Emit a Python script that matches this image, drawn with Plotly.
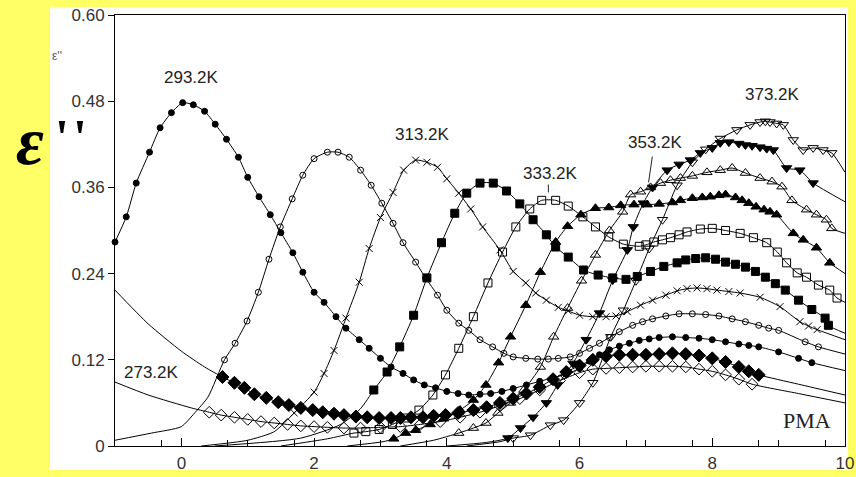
import plotly.graph_objects as go

# ---------------- data ----------------
# 273.2K  open diamonds
h273_x = [-1, -0.5, 0.15]
h273_y = [0.089, 0.071, 0.053]
m273_x = [0.42, 0.6, 0.8, 1.0, 1.2, 1.4, 1.6, 1.8, 2.0, 2.2, 2.45, 2.7, 3.0, 3.3, 3.6, 3.9, 4.2, 4.5, 4.8, 5.1,
          5.4, 5.7, 6.0, 6.2, 6.4, 6.6, 6.8, 7.0, 7.2, 7.4, 7.6, 7.8, 8.0, 8.2, 8.4, 8.6]
m273_y = [0.047, 0.043, 0.040, 0.037, 0.034, 0.032, 0.030, 0.028, 0.027, 0.026, 0.025, 0.025, 0.026, 0.027, 0.030,
          0.034, 0.040, 0.047, 0.056, 0.066, 0.078, 0.091, 0.102, 0.107, 0.108, 0.109, 0.110, 0.111, 0.111, 0.111,
          0.110, 0.107, 0.104, 0.099, 0.093, 0.086]
t273_x = [9.3, 10]
t273_y = [0.073, 0.060]

# 283.2K  filled diamonds
h283_x = [-1, -0.5, 0, 0.35]
h283_y = [0.217, 0.17, 0.132, 0.11]
m283_x = [0.62, 0.8, 0.95, 1.1, 1.28, 1.46, 1.62, 1.8, 1.98, 2.13, 2.3, 2.45, 2.63, 2.8, 2.98, 3.16, 3.3, 3.46, 3.64,
          3.8, 3.98, 4.17, 4.4, 4.6, 4.8, 5.0, 5.2, 5.4, 5.6, 5.8, 6.0, 6.2, 6.4, 6.6, 6.8, 7.0, 7.2, 7.4, 7.6, 7.8,
          8.0, 8.2, 8.4, 8.55, 8.7]
m283_y = [0.096, 0.088, 0.081, 0.072, 0.067, 0.061, 0.057, 0.053, 0.050, 0.047, 0.045, 0.043, 0.041, 0.040, 0.039,
          0.039, 0.039, 0.040, 0.040, 0.042, 0.043, 0.046, 0.050, 0.054, 0.060, 0.066, 0.073, 0.082, 0.093, 0.103,
          0.112, 0.120, 0.125, 0.127, 0.127, 0.127, 0.128, 0.129, 0.128, 0.126, 0.122, 0.117, 0.110, 0.104, 0.099]
t283_x = [9.3, 10]
t283_y = [0.086, 0.071]

# 293.2K  filled circles
h293_x = []
h293_y = []
m293_x = [-1, -0.83, -0.68, -0.48, -0.32, -0.15, 0.02, 0.18, 0.35, 0.51, 0.68, 0.86, 1.0, 1.17, 1.34, 1.5, 1.68,
          1.83, 2.0, 2.15, 2.33, 2.48, 2.68, 2.83, 3.0, 3.16, 3.34, 3.5, 3.66, 3.83, 4.0, 4.17, 4.33, 4.5, 4.66,
          4.83, 5.0, 5.2, 5.4, 5.6, 5.8, 6.0, 6.15, 6.3, 6.45, 6.6, 6.75, 6.9, 7.05, 7.2, 7.4, 7.6, 7.8, 8.0, 8.2,
          8.4, 8.55, 8.7, 9.0, 9.3, 9.5]
m293_y = [0.284, 0.319, 0.366, 0.409, 0.443, 0.464, 0.478, 0.475, 0.466, 0.448, 0.427, 0.402, 0.374, 0.347, 0.322,
          0.297, 0.269, 0.242, 0.214, 0.200, 0.180, 0.164, 0.148, 0.136, 0.122, 0.110, 0.101, 0.092, 0.085, 0.081,
          0.076, 0.073, 0.071, 0.072, 0.073, 0.076, 0.080, 0.085, 0.090, 0.095, 0.100, 0.108, 0.118, 0.127, 0.134,
          0.139, 0.143, 0.147, 0.149, 0.151, 0.152, 0.151, 0.150, 0.148, 0.145, 0.142, 0.140, 0.138, 0.131, 0.122,
          0.116]
t293_x = [10]
t293_y = [0.105]

# 303.2K  open circles
h303_x = [-1, -0.45, 0, 0.2, 0.4]
h303_y = [0.008, 0.018, 0.027, 0.046, 0.068]
m303_x = [0.65, 0.81, 0.99, 1.16, 1.32, 1.49, 1.67, 1.83, 2.0, 2.2, 2.36, 2.53, 2.7, 2.86, 3.02, 3.19, 3.34, 3.53,
          3.68, 3.86, 4.0, 4.18, 4.33, 4.5, 4.69, 4.86, 5.0, 5.19, 5.37, 5.53, 5.68, 5.86, 6.0, 6.15, 6.3, 6.45, 6.6,
          6.8, 6.95, 7.1, 7.3, 7.5, 7.7, 7.9, 8.1, 8.3, 8.5, 8.7, 8.85, 9.0, 9.4, 9.6]
m303_y = [0.120, 0.143, 0.174, 0.214, 0.260, 0.305, 0.344, 0.377, 0.400, 0.409, 0.409, 0.402, 0.384, 0.363, 0.338,
          0.310, 0.283, 0.256, 0.234, 0.210, 0.189, 0.171, 0.161, 0.148, 0.138, 0.129, 0.124, 0.122, 0.121, 0.121,
          0.122, 0.124, 0.129, 0.136, 0.143, 0.151, 0.159, 0.168, 0.173, 0.177, 0.181, 0.184, 0.184, 0.183, 0.181,
          0.177, 0.173, 0.168, 0.164, 0.161, 0.145, 0.138]
t303_x = [10]
t303_y = [0.128]

# 313.2K  crosses
h313_x = [0.3, 1.0, 1.4]
h313_y = [0.0, 0.008, 0.02]
m313_x = [1.7, 2.0, 2.15, 2.3, 2.48, 2.68, 2.83, 3.0, 3.19, 3.35, 3.53, 3.7, 3.86, 4.0, 4.18, 4.36, 4.54, 4.8, 5.0,
          5.19, 5.34, 5.5, 5.68, 5.83, 6.0, 6.2, 6.4, 6.55, 6.72, 6.92, 7.1, 7.3, 7.47, 7.62, 7.77, 7.92, 8.07, 8.25,
          8.42, 8.72, 9.02, 9.32, 9.45, 9.58]
m313_y = [0.046, 0.075, 0.101, 0.133, 0.178, 0.228, 0.275, 0.318, 0.353, 0.384, 0.398, 0.395, 0.388, 0.372, 0.352,
          0.330, 0.305, 0.273, 0.243, 0.227, 0.213, 0.203, 0.193, 0.188, 0.182, 0.180, 0.180, 0.181, 0.187, 0.196,
          0.203, 0.210, 0.216, 0.219, 0.220, 0.219, 0.217, 0.215, 0.213, 0.207, 0.194, 0.173, 0.167, 0.162]
t313_x = [10]
t313_y = [0.148]

# 323.2K  filled squares
h323_x = [0.5, 1.8, 2.4, 2.7]
h323_y = [0.0, 0.011, 0.03, 0.052]
m323_x = [2.9, 3.1, 3.29, 3.5, 3.7, 3.92, 4.12, 4.3, 4.5, 4.7, 4.9, 5.1, 5.3, 5.5, 5.64, 5.83, 6.06, 6.28, 6.5, 6.7,
          6.87, 7.07, 7.27, 7.47, 7.6, 7.75, 7.9, 8.05, 8.2, 8.35, 8.5, 8.65, 8.8, 8.95, 9.1, 9.3, 9.5, 9.7, 9.75]
m323_y = [0.078, 0.103, 0.138, 0.182, 0.234, 0.283, 0.324, 0.352, 0.366, 0.366, 0.355, 0.337, 0.315, 0.294, 0.277,
          0.263, 0.245, 0.238, 0.234, 0.232, 0.236, 0.243, 0.250, 0.255, 0.259, 0.261, 0.262, 0.260, 0.256, 0.253,
          0.249, 0.243, 0.235, 0.226, 0.217, 0.203, 0.190, 0.178, 0.168]
t323_x = [10]
t323_y = [0.157]

# 333.2K  open squares
h333_x = [1.5, 2.2]
h333_y = [0.0, 0.01]
m333_x = [2.6, 2.78, 2.98, 3.18, 3.38, 3.58, 3.79, 3.98, 4.18, 4.4, 4.62, 4.84, 5.04, 5.25, 5.43, 5.64, 5.83, 6.05,
          6.24, 6.44, 6.66, 6.9, 7.0, 7.12, 7.25, 7.37, 7.5, 7.62, 7.82, 8.0, 8.2, 8.42, 8.62, 8.82, 8.98, 9.12, 9.28,
          9.42, 9.6, 9.77, 9.88]
m333_y = [0.018, 0.020, 0.023, 0.030, 0.039, 0.050, 0.071, 0.099, 0.136, 0.180, 0.227, 0.270, 0.305, 0.330, 0.342,
          0.342, 0.334, 0.319, 0.305, 0.291, 0.281, 0.278, 0.280, 0.284, 0.287, 0.290, 0.294, 0.298, 0.302, 0.303,
          0.300, 0.296, 0.290, 0.283, 0.270, 0.255, 0.241, 0.235, 0.224, 0.217, 0.206]
t333_x = [10]
t333_y = [0.200]

# 343.2K  filled up-triangles
h343_x = [2.5, 3.04]
h343_y = [0.0, 0.006]
m343_x = [3.2, 3.38, 3.53, 3.75, 3.95, 4.2, 4.4, 4.59, 4.78, 4.96, 5.19, 5.41, 5.64, 5.82, 6.02, 6.24, 6.44, 6.62,
          6.82, 7.02, 7.2, 7.4, 7.52, 7.7, 7.85, 7.97, 8.1, 8.2, 8.35, 8.45, 8.55, 8.66, 8.78, 8.87, 8.97, 9.22, 9.37,
          9.57, 9.77]
m343_y = [0.010, 0.018, 0.022, 0.030, 0.038, 0.050, 0.064, 0.085, 0.116, 0.152, 0.196, 0.242, 0.284, 0.306, 0.322,
          0.331, 0.332, 0.335, 0.336, 0.336, 0.337, 0.339, 0.342, 0.345, 0.346, 0.347, 0.349, 0.350, 0.346, 0.342,
          0.338, 0.333, 0.329, 0.326, 0.322, 0.296, 0.287, 0.276, 0.255]
t343_x = [10]
t343_y = [0.240]

# 353.2K  open up-triangles
h353_x = [3.3, 3.8]
h353_y = [0.0, 0.008]
m353_x = [4.18, 4.4, 4.59, 4.77, 4.96, 5.16, 5.41, 5.61, 5.82, 6.03, 6.24, 6.45, 6.65, 6.77, 6.92, 7.07, 7.22, 7.37,
          7.52, 7.7, 7.92, 8.12, 8.3, 8.5, 8.72, 8.9, 9.05, 9.2, 9.42, 9.57, 9.72, 9.8]
m353_y = [0.018, 0.025, 0.032, 0.046, 0.060, 0.078, 0.110, 0.152, 0.192, 0.230, 0.266, 0.300, 0.326, 0.350, 0.354,
          0.360, 0.366, 0.370, 0.373, 0.376, 0.381, 0.384, 0.387, 0.380, 0.373, 0.368, 0.361, 0.342, 0.329, 0.322,
          0.315, 0.303]
t353_x = [10]
t353_y = [0.296]

# 363.2K  filled down-triangles
h363_x = [4.0, 4.6]
h363_y = [0.0, 0.005]
m363_x = [4.92, 5.11, 5.3, 5.5, 5.67, 5.9, 6.1, 6.3, 6.5, 6.72, 6.81, 6.96, 7.1, 7.32, 7.5, 7.67, 7.82, 8.0, 8.12,
          8.25, 8.4, 8.5, 8.6, 8.72, 8.82, 8.92, 9.12, 9.32, 9.52]
m363_y = [0.011, 0.025, 0.040, 0.060, 0.085, 0.115, 0.148, 0.185, 0.231, 0.273, 0.305, 0.338, 0.360, 0.384, 0.392,
          0.398, 0.408, 0.415, 0.422, 0.423, 0.421, 0.419, 0.418, 0.416, 0.414, 0.412, 0.387, 0.384, 0.366]
t363_x = [10]
t363_y = [0.340]

# 373.2K  open down-triangles
h373_x = [4.3, 4.8]
h373_y = [0.0, 0.006]
m373_x = [5.0, 5.26, 5.56, 5.76, 6.0, 6.2, 6.47, 6.66, 6.85, 7.05, 7.25, 7.47, 7.7, 7.9, 8.12, 8.37, 8.57, 8.72,
          8.8, 8.87, 8.97, 9.07, 9.22, 9.37, 9.52, 9.67, 9.8]
m373_y = [0.011, 0.015, 0.029, 0.036, 0.060, 0.088, 0.152, 0.189, 0.230, 0.275, 0.315, 0.363, 0.395, 0.413, 0.428,
          0.440, 0.447, 0.451, 0.452, 0.451, 0.449, 0.447, 0.426, 0.412, 0.415, 0.412, 0.408]
t373_x = [10]
t373_y = [0.381]

x_tickvals = [0, 2, 4, 6, 8, 10]
x_minor_ticks = [-0.3, 0, 0.7, 1, 1.7, 2, 2.7, 3, 3.7, 4, 4.7, 5, 5.7, 6, 6.7, 7, 7.7, 8, 8.7, 9, 9.7]
y_tickvals = [0, 0.12, 0.24, 0.36, 0.48, 0.60]
y_ticktext = ["0", "0.12", "0.24", "0.36", "0.48", "0.60"]

labels = ["273.2K", "293.2K", "313.2K", "333.2K", "353.2K", "373.2K"]
label_x = [-0.45, 0.15, 3.64, 5.56, 7.14, 8.9]
label_y = [0.103, 0.513, 0.433, 0.38, 0.423, 0.489]

# ---------------- figure ----------------
series = [
    (h273_x, h273_y, m273_x, m273_y, t273_x, t273_y, "diamond-open", 9),
    (h283_x, h283_y, m283_x, m283_y, t283_x, t283_y, "diamond", 10),
    (h293_x, h293_y, m293_x, m293_y, t293_x, t293_y, "circle", 6),
    (h303_x, h303_y, m303_x, m303_y, t303_x, t303_y, "circle-open", 6),
    (h313_x, h313_y, m313_x, m313_y, t313_x, t313_y, "x-thin-open", 7),
    (h323_x, h323_y, m323_x, m323_y, t323_x, t323_y, "square", 8),
    (h333_x, h333_y, m333_x, m333_y, t333_x, t333_y, "square-open", 8),
    (h343_x, h343_y, m343_x, m343_y, t343_x, t343_y, "triangle-up", 9),
    (h353_x, h353_y, m353_x, m353_y, t353_x, t353_y, "triangle-up-open", 9),
    (h363_x, h363_y, m363_x, m363_y, t363_x, t363_y, "triangle-down", 9),
    (h373_x, h373_y, m373_x, m373_y, t373_x, t373_y, "triangle-down-open", 9),
]

fig = go.Figure()
for hx, hy, mx, my, tx, ty, sym, sz in series:
    fig.add_trace(go.Scatter(x=hx + mx + tx, y=hy + my + ty, mode="lines",
                             line=dict(color="black", width=1, shape="spline", smoothing=0.6),
                             hoverinfo="skip", showlegend=False, cliponaxis=True))
    fig.add_trace(go.Scatter(x=mx, y=my, mode="markers",
                             marker=dict(symbol=sym, size=sz, color="black",
                                         line=dict(color="black", width=1)),
                             showlegend=False, cliponaxis=False))

annos = []
for t, xx, yy in zip(labels, label_x, label_y):
    annos.append(dict(x=xx, y=yy, xref="x", yref="y", text=t, showarrow=False,
                      xanchor="center", yanchor="middle",
                      font=dict(family="Liberation Sans", size=17, color="#222")))
annos.append(dict(x=9.43, y=0.036, xref="x", yref="y", text="PMA", showarrow=False,
                  xanchor="center", yanchor="middle",
                  font=dict(family="Liberation Serif", size=22, color="#222")))
annos.append(dict(x=-0.0795, y=0.905, xref="paper", yref="paper", text="ε''", showarrow=False,
                  xanchor="center", yanchor="middle",
                  font=dict(family="Liberation Sans", size=12, color="#555")))
# big y-axis symbol: epsilon and its two primes
annos.append(dict(x=-0.1164, y=0.708, xref="paper", yref="paper",
                  text="<b><i>ε</i></b>", showarrow=False,
                  xanchor="center", yanchor="middle",
                  font=dict(family="Liberation Serif", size=68, color="black")))
for px_ in (-0.0726, -0.0479):
    annos.append(dict(x=px_, y=0.717, xref="paper", yref="paper",
                      text="<b>'</b>", showarrow=False,
                      xanchor="center", yanchor="middle",
                      font=dict(family="Liberation Serif", size=50, color="black")))
# pointer lines for 333.2K and 353.2K labels
annos.append(dict(x=5.53, y=0.353, ax=5.53, ay=0.366, xref="x", yref="y", axref="x", ayref="y",
                  text="", showarrow=True, arrowhead=0, arrowwidth=1, arrowcolor="#222"))
annos.append(dict(x=7.04, y=0.367, ax=7.1, ay=0.405, xref="x", yref="y", axref="x", ayref="y",
                  text="", showarrow=True, arrowhead=0, arrowwidth=1, arrowcolor="#222"))

fig.update_layout(
    width=856, height=477, autosize=False,
    margin=dict(l=115, r=11, t=15, b=31, autoexpand=False),
    paper_bgcolor="#FFFF66", plot_bgcolor="white",
    annotations=annos,
    shapes=[dict(type="rect", xref="paper", yref="paper", x0=-0.089, x1=1.004, y0=-0.0557, y1=1.0186,
                 fillcolor="white", line=dict(width=0), layer="below")],
    xaxis=dict(range=[-1, 10], tickvals=x_tickvals, ticks="inside", ticklen=8, tickcolor="black",
               showline=True, linecolor="black", linewidth=1, mirror=True, showgrid=False, zeroline=False,
               automargin=False,
               tickfont=dict(family="Liberation Sans", size=17, color="#333"), ticklabelstandoff=2,
               minor=dict(tickvals=x_minor_ticks, ticks="inside", ticklen=6, tickcolor="black", showgrid=False)),
    yaxis=dict(range=[0, 0.6], tickvals=y_tickvals, ticktext=y_ticktext, ticks="outside", ticklen=6,
               tickcolor="black", showline=True, linecolor="black", linewidth=1, mirror=True,
               showgrid=False, zeroline=False, automargin=False,
               tickfont=dict(family="Liberation Sans", size=17, color="#333")),
)
fig.write_html(
    "out.html",
    config={"displayModeBar": False},
    post_script="document.body.style.margin='0';document.body.style.padding='0';"
                "document.body.style.background='#FFFF66';document.documentElement.style.overflow='hidden';",
)
